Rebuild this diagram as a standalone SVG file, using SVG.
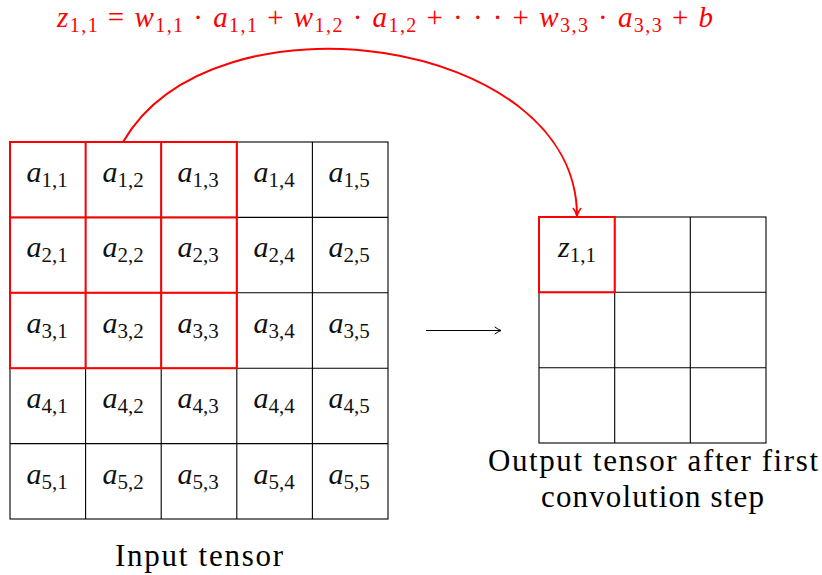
<svg xmlns="http://www.w3.org/2000/svg" width="822" height="575" viewBox="0 0 822 575">
<defs>
<style>
.g{fill:none;stroke:#000;stroke-width:1.1}
.r{fill:none;stroke:#f00;stroke-width:2}
.t{font-family:"Liberation Serif","DejaVu Serif",serif;font-size:31px;fill:#000;text-anchor:middle}
.c{font-family:"Liberation Serif","DejaVu Serif",serif;font-size:30px;text-anchor:middle;fill:#111}
.i{font-style:italic}
.s{font-size:21px}
.f{font-family:"Liberation Serif","DejaVu Serif",serif;font-size:29px;fill:#f00}
.f .s{font-size:20px}
</style>
<marker id="ar" viewBox="0 0 10 10" refX="9" refY="5" markerWidth="10" markerHeight="10" markerUnits="userSpaceOnUse" orient="auto">
<path d="M1,1 Q5,4 9,5 Q5,6 1,9" fill="none" stroke="#f00" stroke-width="1.6"/>
</marker>
<marker id="ab" viewBox="0 0 10 10" refX="9" refY="5" markerWidth="9" markerHeight="9" markerUnits="userSpaceOnUse" orient="auto">
<path d="M2,1 Q6,4 9,5 Q6,6 2,9" fill="none" stroke="#000" stroke-width="1.1"/>
</marker>
</defs>
<rect width="822" height="575" fill="#fff"/>

<g id="formula">
<text class="f" x="57" y="27" textLength="656" lengthAdjust="spacing"><tspan class="i">z</tspan><tspan class="s" dy="5">1,1</tspan><tspan dy="-5"> = </tspan><tspan class="i">w</tspan><tspan class="s" dy="5">1,1</tspan><tspan dy="-5"> · </tspan><tspan class="i">a</tspan><tspan class="s" dy="5">1,1</tspan><tspan dy="-5"> + </tspan><tspan class="i">w</tspan><tspan class="s" dy="5">1,2</tspan><tspan dy="-5"> · </tspan><tspan class="i">a</tspan><tspan class="s" dy="5">1,2</tspan><tspan dy="-5"> + · · · + </tspan><tspan class="i">w</tspan><tspan class="s" dy="5">3,3</tspan><tspan dy="-5"> · </tspan><tspan class="i">a</tspan><tspan class="s" dy="5">3,3</tspan><tspan dy="-5"> + </tspan><tspan class="i">b</tspan></text>
</g>

<g id="input-tensor">
<rect class="g" x="10" y="142" width="378" height="377"/>
<path class="g" d="M85.6,142V519M161.2,142V519M236.8,142V519M312.4,142V519M10,217.4H388M10,292.8H388M10,368.2H388M10,443.6H388"/>
<g id="cells">
<text class="c" x="47" y="182"><tspan class="i">a</tspan><tspan class="s" dy="5">1,1</tspan></text>
<text class="c" x="123" y="182"><tspan class="i">a</tspan><tspan class="s" dy="5">1,2</tspan></text>
<text class="c" x="198" y="182"><tspan class="i">a</tspan><tspan class="s" dy="5">1,3</tspan></text>
<text class="c" x="274" y="182"><tspan class="i">a</tspan><tspan class="s" dy="5">1,4</tspan></text>
<text class="c" x="349" y="182"><tspan class="i">a</tspan><tspan class="s" dy="5">1,5</tspan></text>
<text class="c" x="47" y="257"><tspan class="i">a</tspan><tspan class="s" dy="5">2,1</tspan></text>
<text class="c" x="123" y="257"><tspan class="i">a</tspan><tspan class="s" dy="5">2,2</tspan></text>
<text class="c" x="198" y="257"><tspan class="i">a</tspan><tspan class="s" dy="5">2,3</tspan></text>
<text class="c" x="274" y="257"><tspan class="i">a</tspan><tspan class="s" dy="5">2,4</tspan></text>
<text class="c" x="349" y="257"><tspan class="i">a</tspan><tspan class="s" dy="5">2,5</tspan></text>
<text class="c" x="47" y="333"><tspan class="i">a</tspan><tspan class="s" dy="5">3,1</tspan></text>
<text class="c" x="123" y="333"><tspan class="i">a</tspan><tspan class="s" dy="5">3,2</tspan></text>
<text class="c" x="198" y="333"><tspan class="i">a</tspan><tspan class="s" dy="5">3,3</tspan></text>
<text class="c" x="274" y="333"><tspan class="i">a</tspan><tspan class="s" dy="5">3,4</tspan></text>
<text class="c" x="349" y="333"><tspan class="i">a</tspan><tspan class="s" dy="5">3,5</tspan></text>
<text class="c" x="47" y="408"><tspan class="i">a</tspan><tspan class="s" dy="5">4,1</tspan></text>
<text class="c" x="123" y="408"><tspan class="i">a</tspan><tspan class="s" dy="5">4,2</tspan></text>
<text class="c" x="198" y="408"><tspan class="i">a</tspan><tspan class="s" dy="5">4,3</tspan></text>
<text class="c" x="274" y="408"><tspan class="i">a</tspan><tspan class="s" dy="5">4,4</tspan></text>
<text class="c" x="349" y="408"><tspan class="i">a</tspan><tspan class="s" dy="5">4,5</tspan></text>
<text class="c" x="47" y="484"><tspan class="i">a</tspan><tspan class="s" dy="5">5,1</tspan></text>
<text class="c" x="123" y="484"><tspan class="i">a</tspan><tspan class="s" dy="5">5,2</tspan></text>
<text class="c" x="198" y="484"><tspan class="i">a</tspan><tspan class="s" dy="5">5,3</tspan></text>
<text class="c" x="274" y="484"><tspan class="i">a</tspan><tspan class="s" dy="5">5,4</tspan></text>
<text class="c" x="349" y="484"><tspan class="i">a</tspan><tspan class="s" dy="5">5,5</tspan></text>
</g>
</g>

<g id="kernel-window">
<rect class="r" x="10" y="142" width="226.8" height="226.2"/>
<path class="r" d="M85.6,142V368.2M161.2,142V368.2M10,217.4H236.8M10,292.8H236.8"/>
</g>

<g id="output-tensor">
<rect class="g" x="539" y="217" width="227" height="226"/>
<path class="g" d="M614.7,217V443M690.3,217V443M539,292.3H766M539,367.7H766"/>
<rect class="r" x="539" y="217" width="75.7" height="75.3"/>
<text class="c" x="577" y="257"><tspan class="i">z</tspan><tspan class="s" dy="5">1,1</tspan></text>
</g>

<g id="labels">
<text class="t" x="199" y="566" textLength="168" lengthAdjust="spacing">Input tensor</text>
<text class="t" x="653" y="471" textLength="330" lengthAdjust="spacing">Output tensor after first</text>
<text class="t" x="652.5" y="507" textLength="223" lengthAdjust="spacing">convolution step</text>
</g>

<g id="connectors">
<path d="M123,142 C213,-14 577,36 577,216" fill="none" stroke="#f00" stroke-width="2" marker-end="url(#ar)"/>
<path d="M426,330.5H501" fill="none" stroke="#000" stroke-width="1" marker-end="url(#ab)"/>
</g>
</svg>
